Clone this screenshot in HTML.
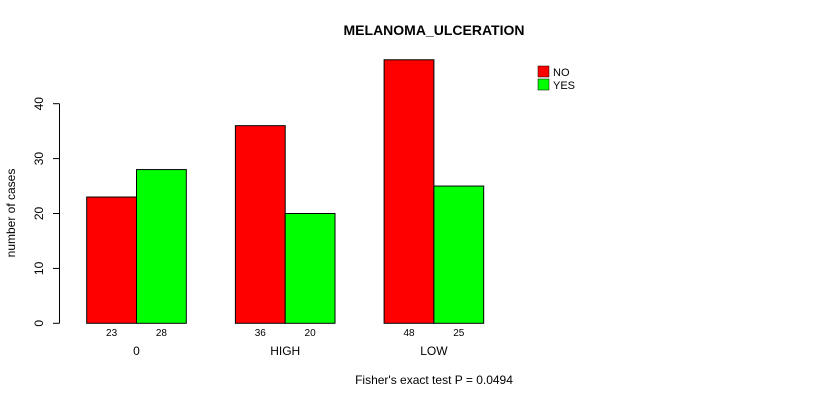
<!DOCTYPE html>
<html><head><meta charset="utf-8"><style>body{margin:0;background:#fff}svg text{font-family:"Liberation Sans",sans-serif}</style></head>
<body>
<svg width="840" height="400" xmlns="http://www.w3.org/2000/svg">
<text x="434" y="35" text-anchor="middle" font-size="14" font-weight="bold">MELANOMA_ULCERATION</text>
<text transform="translate(15,213) rotate(-90)" text-anchor="middle" font-size="12">number of cases</text>
<text x="434" y="384" text-anchor="middle" font-size="12">Fisher's exact test P = 0.0494</text>
<g id="axis"></g>
<g id="bars"></g>
<g>
<rect x="538" y="66" width="11" height="11" fill="#ff0000" stroke="#000" stroke-width="0.5"/>
<text x="553" y="76" font-size="11">NO</text>
<rect x="538" y="79" width="11" height="11" fill="#00ff00" stroke="#000" stroke-width="0.5"/>
<text x="553" y="89" font-size="11">YES</text>
</g>
</svg>
<script>
const categories = ["0", "HIGH", "LOW"];
const noValues = [23, 36, 48];
const yesValues = [28, 20, 25];
const yTicks = [0, 10, 20, 30, 40];
const NS = "http://www.w3.org/2000/svg";
const y0 = 323.3, pxPerUnit = 5.49;
function yScale(v){ return y0 - v * pxPerUnit; }
function xGroup(i){ return 86.7 + i * 148.7; }
const bw = 49.8;
function mk(tag, attrs, parent){ const e=document.createElementNS(NS,tag); for(const k in attrs) e.setAttribute(k,attrs[k]); parent.appendChild(e); return e; }
const ax = document.getElementById("axis");
let l = mk("line",{x1:59.5,x2:59.5,y1:yScale(yTicks[yTicks.length-1]),y2:yScale(0),stroke:"#000"},ax);


yTicks.forEach(t=>{
  const tk = mk("line",{x1:53,x2:59.5,y1:yScale(t),y2:yScale(t),stroke:"#000"},ax);
  
  
  const tx = mk("text",{transform:`translate(43,${yScale(t)}) rotate(-90)`,"text-anchor":"middle","font-size":"12"},ax);
  tx.textContent = t;
  
  
});
const bars = document.getElementById("bars");
categories.forEach((c,i)=>{
  const x = xGroup(i);
  [[noValues[i],"#ff0000",0,"no"],[yesValues[i],"#00ff00",1,"yes"]].forEach(([v,col,k,nm])=>{
    const r = mk("rect",{x:x+k*bw,y:yScale(v),width:bw,height:yScale(0)-yScale(v),fill:col,stroke:"#000","stroke-width":1},bars);
    
    
    const t = mk("text",{x:x+k*bw+bw/2,y:336,"text-anchor":"middle","font-size":"10"},bars);
    t.textContent = v;
    
    
  });
  const cl = mk("text",{x:x+bw,y:355,"text-anchor":"middle","font-size":"12"},bars);
  cl.textContent = c;
  
  
});
</script>
</body></html>
